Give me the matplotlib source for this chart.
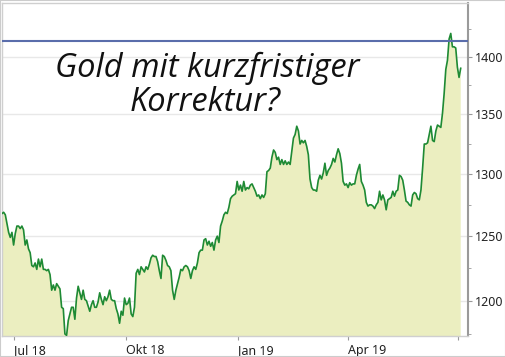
import matplotlib
matplotlib.use('Agg')
import matplotlib.pyplot as plt
from matplotlib.patches import Rectangle
from matplotlib.ticker import NullFormatter
import pandas as pd

start_date = '2018-06-21'
end_date = '2019-07-03'
gold = [
    1268, 1269, 1267, 1260, 1253, 1249, 1253, 1243, 1252, 1258, 1258, 1256, 1258, 1255, 1243, 1247,
    1240, 1237, 1227, 1226, 1229, 1224, 1232, 1226, 1232, 1224, 1224, 1223, 1224, 1220, 1208, 1212,
    1208, 1213, 1211, 1209, 1195, 1194, 1175, 1174, 1185, 1190, 1195, 1195, 1186, 1202, 1211,
    1206, 1201, 1208, 1201, 1200, 1196, 1192, 1197, 1200, 1195, 1195, 1199, 1206, 1201, 1197, 1203,
    1200, 1203, 1208, 1201, 1200, 1200, 1194, 1190, 1183, 1192, 1189, 1202, 1197, 1198, 1202, 1190,
    1188, 1195, 1221, 1224, 1220, 1226, 1224, 1222, 1226, 1224, 1228, 1233, 1235, 1234, 1234, 1230,
    1223, 1217,
    1235, 1234, 1231, 1227, 1226, 1223, 1208, 1201, 1208, 1213, 1218, 1224, 1223, 1226, 1227, 1226,
    1223, 1217, 1223, 1226, 1224, 1229, 1237, 1239, 1239, 1247, 1248, 1243, 1246, 1242, 1245, 1239,
    1247, 1250, 1245, 1258, 1262, 1267, 1269, 1268, 1273, 1280, 1282, 1283, 1284,
    1294, 1287, 1291, 1286, 1294, 1287, 1289, 1288, 1291, 1292, 1289, 1286, 1282, 1283, 1280, 1283,
    1281, 1284, 1302, 1303, 1305, 1314, 1320, 1318, 1312, 1314, 1308, 1312, 1308, 1311, 1308, 1310,
    1308, 1319, 1330, 1333, 1340, 1336, 1325, 1328, 1326, 1328, 1323, 1316, 1296, 1289, 1287, 1287,
    1286, 1295, 1299, 1296,
    1301, 1309, 1299, 1303, 1305, 1308, 1313, 1310, 1316, 1321, 1317, 1309, 1294, 1291, 1292, 1289,
    1293, 1291, 1292, 1292, 1299, 1304, 1308, 1294, 1291, 1287, 1277, 1274, 1275, 1275, 1274, 1272,
    1275, 1277, 1286, 1279, 1283, 1279, 1271, 1279, 1280, 1281, 1286, 1282, 1286, 1287, 1299, 1298,
    1295, 1287, 1278, 1277, 1275, 1274, 1283, 1285, 1284, 1280, 1279, 1287, 1305, 1325, 1325, 1326,
    1333, 1340, 1328, 1327, 1336, 1341, 1340, 1339, 1351, 1368, 1389, 1397, 1416, 1421, 1409, 1409,
    1408, 1391, 1382, 1390,
]
resistance = 1414.5

x_ticks = ['2018-07-01', '2018-10-01', '2019-01-01', '2019-04-01', '2019-07-01']
x_labels = ['Jul 18', 'Okt 18', 'Jan 19', 'Apr 19', '']
y_ticks = [1200, 1250, 1300, 1350, 1400]
y_minor = [1175, 1225, 1275, 1325, 1375, 1425]

dates = pd.date_range(start_date, end_date, periods=len(gold))

plt.rcParams['font.family'] = ['Noto Sans', 'DejaVu Sans']

fig = plt.figure(figsize=(5.06, 3.57), dpi=100)
ax = fig.add_axes([2 / 506, 21 / 357, 466 / 506, 333 / 357])

ax.fill_between(dates, gold, 1100, color='#ebeec0', lw=0, zorder=2)
ax.plot(dates, gold, color='#1e8a34', lw=1.2, zorder=3)
ax.axhline(resistance, color='#5a6dab', lw=1.5, zorder=4)

ax.set_yscale('log')
ax.set_ylim(1173.5, 1448.6)
ax.set_xlim(pd.Timestamp(start_date), pd.Timestamp('2019-07-09'))

ax.yaxis.tick_right()
ax.set_yticks(y_ticks, labels=[str(v) for v in y_ticks])
ax.set_yticks(y_minor, minor=True)
ax.yaxis.set_minor_formatter(NullFormatter())
ax.set_xticks(pd.to_datetime(x_ticks), labels=x_labels)
for lbl in ax.get_xticklabels():
    lbl.set_ha('left')

ax.grid(axis='y', which='major', color='#e8e8e8', lw=1, zorder=0)
ax.set_axisbelow(True)

ax.tick_params(axis='x', length=3, color='#999999', labelsize=9, pad=3, labelcolor='#222222')
ax.tick_params(axis='y', which='major', length=3, color='#999999', labelsize=9, pad=2,
               labelcolor='#222222')
ax.tick_params(axis='y', which='minor', length=2, color='#999999')

for side in ['left', 'top', 'bottom']:
    ax.spines[side].set_color('#cfcfcf')
    ax.spines[side].set_linewidth(1)
ax.spines['right'].set_color('#9a9a9a')
ax.spines['right'].set_linewidth(1.5)

title_kw = dict(fontsize=23.5, style='italic', family=['Open Sans', 'DejaVu Sans'],
                color='#111111', ha='center', va='baseline')
fig.text(207 / 506, 1 - 77 / 357, 'Gold mit kurzfristiger', **title_kw)
fig.text(205 / 506, 1 - 111 / 357, 'Korrektur?', **title_kw)

fig.patches.append(Rectangle((0, 0), 1, 1, transform=fig.transFigure, fill=False,
                             ec='#cccccc', lw=1.5))

fig.savefig('out.png', dpi=100)
